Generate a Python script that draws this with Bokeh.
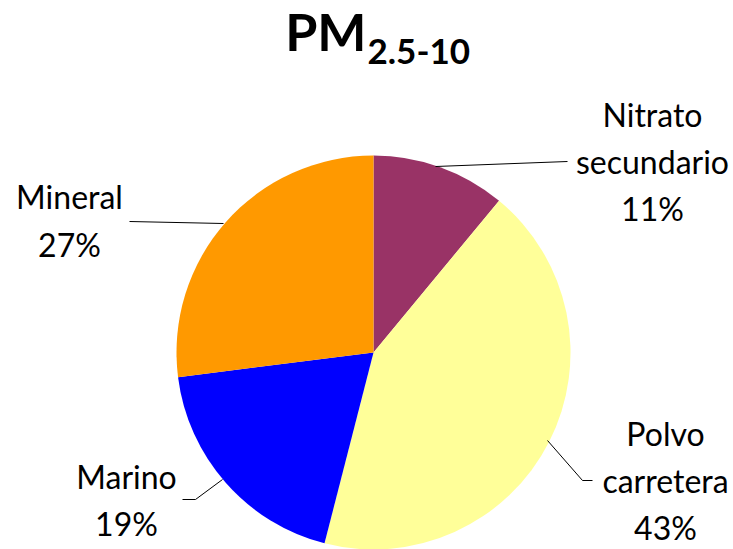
import math
from bokeh.plotting import figure
from bokeh.models import Range1d
from bokeh.core.properties import value
from bokeh.embed import file_html
from bokeh.resources import INLINE

# ---- data ----
categories = ["Nitrato secundario", "Polvo carretera", "Marino", "Mineral"]
percents = [11, 43, 19, 27]
colors = ["#993366", "#FFFF99", "#0000FF", "#FF9900"]
label_lines = [["Nitrato", "secundario", "11%"],
               ["Polvo", "carretera", "43%"],
               ["Marino", "19%"],
               ["Mineral", "27%"]]

W, H = 733, 549
FONT = "Lato"
SHIFT = 0.38  # baseline correction, fraction of font size

def X(xs):
    return xs

def Y(ys, fs=0):
    return H - (ys - SHIFT * fs)

p = figure(width=W, height=H, output_backend="svg", toolbar_location=None,
           x_range=Range1d(0, W), y_range=Range1d(0, H), min_border=0)
p.axis.visible = False
p.grid.visible = False
p.outline_line_color = None
p.background_fill_color = "white"

# pie
cx, cy, r = X(373), Y(352), 197
total = sum(percents)
cum = 0
starts, ends = [], []
for v in percents:
    a0 = math.pi / 2 - 2 * math.pi * cum / total
    cum += v
    a1 = math.pi / 2 - 2 * math.pi * cum / total
    starts.append(a0)
    ends.append(a1)
p.wedge(x=[cx] * len(percents), y=[cy] * len(percents), radius=r,
        start_angle=starts, end_angle=ends, direction="clock",
        fill_color=colors, line_color=None)

# leader lines (screen layout)
leaders = [
    [(435, 166), (567, 161)],
    [(547, 440), (582, 480), (592, 480)],
    [(222, 479), (195, 499), (182, 499)],
    [(223, 223), (129, 221)],
]
p.multi_line(xs=[[X(a) for a, b in L] for L in leaders],
             ys=[[Y(b) for a, b in L] for L in leaders],
             line_color="black", line_width=1)

# label layout: center x, first baseline, line step
LFS = 32
label_pos = [(652, 126, 47), (665, 445, 47), (126, 488, 47), (69, 208, 48)]
for lines, (lx, ly, step) in zip(label_lines, label_pos):
    for i, t in enumerate(lines):
        p.text(x=[X(lx)], y=[Y(ly + i * step, LFS)], text=[t],
               text_font=value(FONT), text_font_size=f"{LFS}px",
               text_align="center", text_baseline="alphabetic",
               text_color="black")

# title
TFS = 52
p.text(x=[X(366)], y=[Y(50, TFS)], text=["PM"], text_font=value(FONT),
       text_font_size=f"{TFS}px", text_font_style="bold",
       text_align="right", text_baseline="alphabetic", text_color="black")
p.text(x=[X(367)], y=[Y(64, 35)], text=["2.5-10"], text_font=value(FONT),
       text_font_size="35px", text_font_style="bold",
       text_align="left", text_baseline="alphabetic", text_color="black")

open("out.html", "w").write(file_html(p, INLINE))
